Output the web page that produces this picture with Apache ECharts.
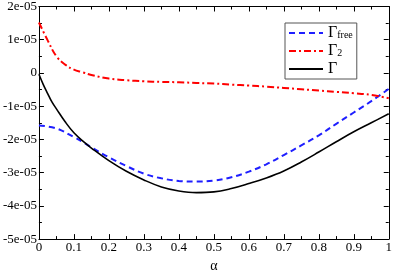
<!DOCTYPE html>
<html><head><meta charset="utf-8">
<script src="https://cdn.jsdelivr.net/npm/echarts@6/dist/echarts.min.js"></script>
<style>html,body{margin:0;padding:0;background:#fff}#c{width:395px;height:278px}</style>
</head><body><div id="c"></div>
<script>
// values in units of 1e-05
const alphaGamma = [0, 0.0125, 0.025, 0.0375, 0.05, 0.075, 0.1, 0.13, 0.15, 0.2, 0.25, 0.3, 0.35, 0.4, 0.45, 0.5, 0.55, 0.6, 0.65, 0.7, 0.75, 0.8, 0.85, 0.9, 0.95, 1.0];
const gammaTotal = [-0.04, -0.35, -0.62, -0.88, -1.08, -1.47, -1.80, -2.09, -2.26, -2.64, -2.96, -3.22, -3.43, -3.55, -3.60, -3.58, -3.48, -3.33, -3.16, -2.95, -2.68, -2.38, -2.07, -1.77, -1.50, -1.23];
const alphaFree = [0, 0.05, 0.1, 0.13, 0.15, 0.2, 0.25, 0.3, 0.35, 0.4, 0.45, 0.5, 0.55, 0.6, 0.65, 0.7, 0.75, 0.8, 0.85, 0.9, 0.95, 1.0];
const gammaFree = [-1.58, -1.67, -1.93, -2.11, -2.24, -2.54, -2.80, -3.03, -3.17, -3.25, -3.27, -3.24, -3.14, -2.97, -2.75, -2.47, -2.18, -1.88, -1.53, -1.19, -0.85, -0.48];
const alpha2 = [0, 0.025, 0.05, 0.075, 0.1, 0.125, 0.15, 0.2, 0.25, 0.3, 0.35, 0.4, 0.45, 0.5, 0.55, 0.6, 0.65, 0.7, 0.75, 0.8, 0.85, 0.9, 0.95, 1.0];
const gamma2 = [1.52, 0.98, 0.50, 0.25, 0.10, 0.02, -0.06, -0.17, -0.22, -0.25, -0.27, -0.28, -0.30, -0.32, -0.35, -0.38, -0.41, -0.45, -0.49, -0.53, -0.57, -0.61, -0.66, -0.76];
const xTicks = [0, 0.1, 0.2, 0.3, 0.4, 0.5, 0.6, 0.7, 0.8, 0.9, 1];
const yTicks = [-5, -4, -3, -2, -1, 0, 1, 2];
const seriesNames = ['free', '2', 'total'];

const pair = (xs, ys) => xs.map((x, i) => [x, ys[i]]);
const font = "'Liberation Serif', 'Times New Roman', serif";
const axisCommon = {
  axisLine: {show: true, onZero: false, lineStyle: {color: '#000', width: 1}},
  axisTick: {show: true, inside: true, length: 5, lineStyle: {color: '#000'}},
  minorTick: {show: true, splitNumber: 2, length: 3, lineStyle: {color: '#000'}},
  splitLine: {show: false}
};
const chart = echarts.init(document.getElementById('c'), null, {renderer: 'canvas'});
chart.setOption({
  animation: false,
  backgroundColor: '#fff',
  grid: {left: 37, right: 3, top: 5, bottom: 25, containLabel: false},
  xAxis: [
    Object.assign({type: 'value', min: 0, max: 1, interval: 0.1, position: 'bottom',
      name: 'α', nameLocation: 'middle', nameGap: 17,
      nameTextStyle: {fontFamily: font, fontSize: 14, color: '#000'},
      axisLabel: {fontFamily: font, fontSize: 13, color: '#000', margin: 2,
        formatter: v => { const r = Math.round(v * 10) / 10; return xTicks.includes(r) ? String(r) : ''; }}}, axisCommon),
    Object.assign({type: 'value', min: 0, max: 1, interval: 0.1, position: 'top', axisLabel: {show: false}}, axisCommon)
  ],
  yAxis: [
    Object.assign({type: 'value', min: -5, max: 2, interval: 1, position: 'left',
      axisLabel: {fontFamily: font, fontSize: 13, color: '#000', margin: 2,
        formatter: v => { const r = Math.round(v); if (!yTicks.includes(r)) return ''; return r === 0 ? '0' : r + 'e-05'; }}}, axisCommon),
    Object.assign({type: 'value', min: -5, max: 2, interval: 1, position: 'right', axisLabel: {show: false}}, axisCommon)
  ],
  legend: {
    left: 285, top: 23, orient: 'vertical',
    padding: [2, 4, 2, 3], itemGap: 2, itemWidth: 34, itemHeight: 14,
    borderColor: '#555', borderWidth: 1, backgroundColor: '#fff',
    itemStyle: {opacity: 0},
    data: seriesNames,
    formatter: n => n === 'free' ? '{g|Γ}{s|free}' : (n === '2' ? '{g|Γ}{s|2}' : '{g|Γ}'),
    textStyle: {fontFamily: font, color: '#000', rich: {
      g: {fontFamily: font, fontSize: 16, lineHeight: 15, color: '#000'},
      s: {fontFamily: font, fontSize: 10, lineHeight: 5, verticalAlign: 'bottom', color: '#000'}
    }}
  },
  series: [
    {name: 'free', type: 'line', data: pair(alphaFree, gammaFree), smooth: 0.4, showSymbol: false, symbol: 'none',
      lineStyle: {color: '#1f1fff', width: 2, type: [6, 4]}, itemStyle: {color: '#1f1fff'}},
    {name: '2', type: 'line', data: pair(alpha2, gamma2), smooth: 0.4, showSymbol: false, symbol: 'none',
      lineStyle: {color: '#ff0000', width: 2, type: [7, 3, 2, 3]}, itemStyle: {color: '#ff0000'}},
    {name: 'total', type: 'line', data: pair(alphaGamma, gammaTotal), smooth: 0.4, showSymbol: false, symbol: 'none',
      lineStyle: {color: '#000', width: 1.6, type: 'solid'}, itemStyle: {color: '#000'}}
  ]
});
</script></body></html>
